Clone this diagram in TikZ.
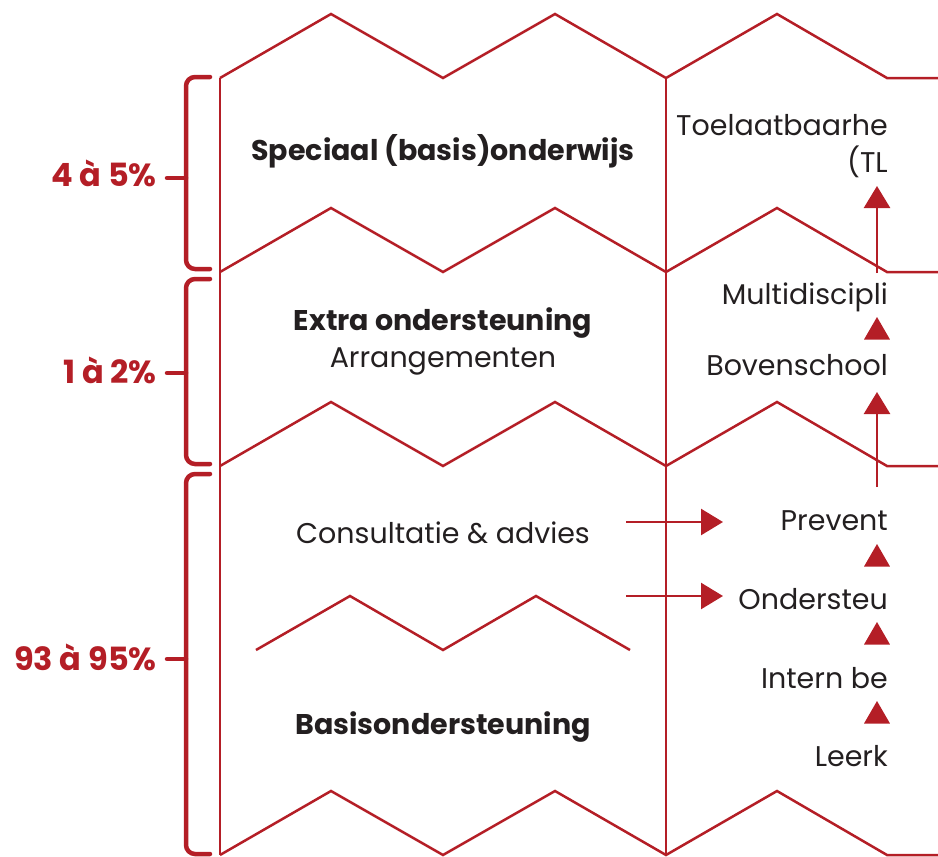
\documentclass[tikz,border=0pt]{standalone}
\usepackage{fontspec}
\setmainfont{Poppins}
\usepackage{tikz}
\usetikzlibrary{arrows.meta}
\usetikzlibrary{shapes.geometric}
\usepackage{xcolor}
\definecolor{ColRed}{RGB}{180,30,38}
\definecolor{ColInk}{RGB}{35,31,32}
\tikzstyle{ZigLine}=[ColRed,line width=2.5pt,line join=miter]
\tikzstyle{BraceLine}=[ColRed,line width=4.5pt,rounded corners=9pt,line cap=round]
\tikzstyle{PctLabel}=[anchor=east,text=ColRed,font=\fontsize{32}{36}\selectfont\bfseries,inner sep=0pt]
\tikzstyle{LayerText}=[text=ColInk,font=\fontsize{28.5}{37}\selectfont,inner sep=0pt,align=center]
\tikzstyle{ColText}=[anchor=east,text=ColInk,font=\fontsize{28.5}{37}\selectfont,inner sep=0pt,align=right]
\tikzstyle{UpArrow}=[ColRed,line width=2.5pt,-{Triangle[width=26pt,length=22pt]}]
\tikzstyle{TriHead}=[regular polygon,regular polygon sides=3,fill=ColRed,inner sep=0pt,minimum size=30pt]

\begin{document}
\begin{tikzpicture}[x=1pt,y=-1pt]
        \useasboundingbox (0,0) rectangle (938,857);
        % layers
        \draw[ZigLine](220,78)--(331,14)--(443,78)--(555,14)--(666,78)--(777,14)--(887,78)--(940,78);
        \draw[ZigLine](220,272)--(331,208)--(443,272)--(555,208)--(666,272)--(777,208)--(887,272)--(940,272);
        \draw[ZigLine](220,466)--(331,402)--(443,466)--(555,402)--(666,466)--(777,402)--(887,466)--(940,466);
        \draw[ZigLine](220,855)--(331,791)--(443,855)--(555,791)--(666,855)--(777,791)--(887,855)--(940,855);
        \draw[ZigLine](256,650)--(350,596)--(443,650)--(536,596)--(630,650);
        \draw[ZigLine](220,78)--(220,855);
        \draw[ZigLine](666,78)--(666,855);
        % braces
        \draw[BraceLine](210,77)--(186,77)--(186,269)--(210,269);
        \draw[BraceLine](186,178)--(167,178);
        \draw[BraceLine](210,279)--(186,279)--(186,464)--(210,464);
        \draw[BraceLine](186,373)--(167,373);
        \draw[BraceLine](210,474)--(186,474)--(186,854)--(210,854);
        \draw[BraceLine](186,659)--(167,659);
        \node[PctLabel](pa)at(157,173){4 à 5\%};
        \node[PctLabel](pb)at(157,370){1 à 2\%};
        \node[PctLabel](pc)at(157,657){93 à 95\%};
        % middle column
        \node[LayerText](spec)at(443,151){\bfseries Speciaal (basis)onderwijs};
        \node[LayerText](extra)at(443,341){\bfseries Extra ondersteuning\\Arrangementen};
        \node[LayerText](cons)at(443,533){Consultatie \& advies};
        \node[LayerText](basis)at(443,727){\bfseries Basisondersteuning};
        % right column
        \node[ColText](tlv)at(888,146){Toelaatbaarhe\\(TL};
        \node[ColText](multi)at(888,297){Multidiscipli};
        \node[ColText](boven)at(888,365){Bovenschool};
        \node[ColText](prev)at(888,521){Prevent};
        \node[ColText](onder)at(888,599){Ondersteu};
        \node[ColText](intern)at(888,678){Intern be};
        \node[ColText](leerk)at(888,756){Leerk};
        \node[TriHead](ta)at(877,332){};
        \node[TriHead](tb)at(877,559){};
        \node[TriHead](tc)at(877,637){};
        \node[TriHead](td)at(877,716){};
        % arrows
        \coordinate(fa)at(877,273);
        \coordinate(ha)at(877,186);
        \coordinate(fb)at(877,487);
        \coordinate(hb)at(877,392);
        \coordinate(fc)at(626,522);
        \coordinate(hc)at(723,522);
        \coordinate(fd)at(626,596);
        \coordinate(hd)at(723,596);
        \draw[UpArrow](fa)--(ha);
        \draw[UpArrow](fb)--(hb);
        \draw[UpArrow](fc)--(hc);
        \draw[UpArrow](fd)--(hd);
    \end{tikzpicture}
\end{document}
